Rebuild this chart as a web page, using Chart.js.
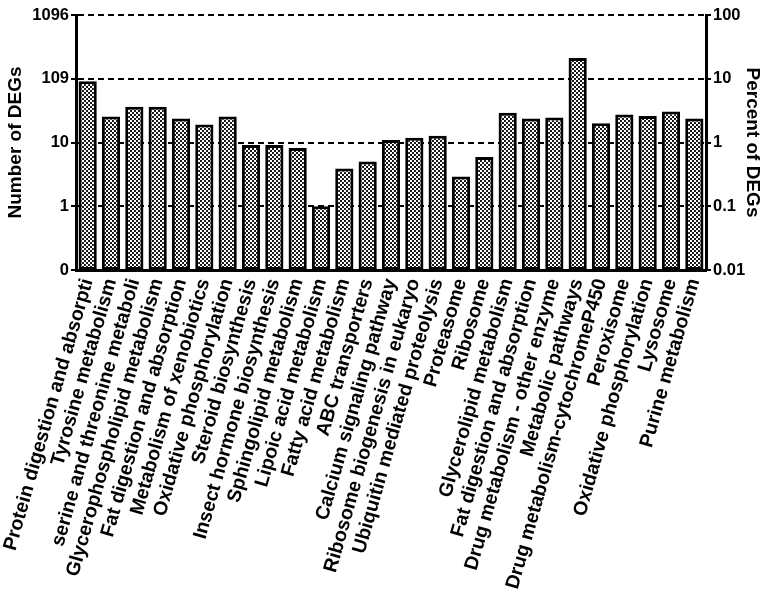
<!DOCTYPE html>
<html>
<head>
<meta charset="utf-8">
<script src="https://cdn.jsdelivr.net/npm/chart.js@4.4.0/dist/chart.umd.min.js"></script>
<style>
html,body{margin:0;padding:0;background:#fff;}
#wrap{width:764px;height:602px;}
</style>
</head>
<body>
<div id="wrap"><canvas id="c" width="764" height="602"></canvas></div>
<script>
const categories = [
  "Protein digestion and absorpti",
  "Tyrosine metabolism",
  "serine and threonine metaboli",
  "Glycerophospholipid metabolism",
  "Fat digestion and absorption",
  "Metabolism of xenobiotics",
  "Oxidative phosphorylation",
  "Steroid biosynthesis",
  "Insect hormone biosynthesis",
  "Sphingolipid metabolism",
  "Lipoic acid metabolism",
  "Fatty acid metabolism",
  "ABC transporters",
  "Calcium signaling pathway",
  "Ribosome biogenesis in eukaryo",
  "Ubiquitin mediated proteolysis",
  "Proteasome",
  "Ribosome",
  "Glycerolipid metabolism",
  "Fat digestion and absorption",
  "Drug metabolism - other enzyme",
  "Metabolic pathways",
  "Drug metabolism-cytochromeP450",
  "Peroxisome",
  "Oxidative phosphorylation",
  "Lysosome",
  "Purine metabolism"
];
const degCounts = [100, 28, 40, 40, 26, 21, 28, 10, 10, 9, 1.1, 4.3, 5.5, 12, 13, 14, 3.2, 6.5, 32, 26, 27, 232, 22, 30, 28.5, 33.5, 26];
const leftTickValues = [0.1096, 1.096, 10.96, 109.6, 1096];
const leftTickLabels = ["0", "1", "10", "109", "1096"];
const rightTickValues = [0.01, 0.1, 1, 10, 100];
const rightTickLabels = ["0.01", "0.1", "1", "10", "100"];

// checkered fill pattern
const pc = document.createElement('canvas');
pc.width = 4; pc.height = 4;
const px = pc.getContext('2d');
px.fillStyle = '#ffffff'; px.fillRect(0,0,4,4);
px.fillStyle = '#1a1a1a';
px.fillRect(0,0,2,2); px.fillRect(2,2,2,2);
const pattern = document.getElementById('c').getContext('2d').createPattern(pc, 'repeat');

const FONT = "'Liberation Sans', Arial, sans-serif";

new Chart(document.getElementById('c'), {
  type: 'bar',
  data: {
    labels: categories,
    datasets: [{
      data: degCounts,
      backgroundColor: pattern,
      borderColor: '#000',
      borderWidth: 3,
      borderSkipped: false,
      barPercentage: 0.78,
      categoryPercentage: 1.0,
      yAxisID: 'y'
    }]
  },
  options: {
    responsive: false,
    animation: false,
    devicePixelRatio: 1,
    layout: { padding: { top: 15, left: 0, right: 0, bottom: 0 } },
    plugins: { legend: { display: false }, tooltip: { enabled: false } },
    scales: {
      x: {
        type: 'category',
        offset: true,
        grid: { display: false, drawTicks: false },
        border: { display: true, color: '#000', width: 3 },
        ticks: {
          color: '#000',
          font: { family: FONT, size: 19.5, weight: 'bold' },
          maxRotation: 74, minRotation: 74,
          autoSkip: false,
          padding: 6
        },
        afterFit(scale) { scale.height = 332; scale.paddingLeft = 0; scale.paddingRight = 0; }
      },
      y: {
        type: 'logarithmic',
        position: 'left',
        min: 0.1096, max: 1096,
        afterBuildTicks(scale) { scale.ticks = leftTickValues.map(v => ({ value: v })); },
        ticks: {
          color: '#000',
          font: { family: FONT, size: 16.5, weight: 'bold' },
          padding: 2,
          callback(value, index) { return leftTickLabels[index]; }
        },
        grid: {
          color: '#000', lineWidth: 2,
          drawOnChartArea: true, drawTicks: true,
          tickLength: 5, tickColor: '#000', tickWidth: 2, tickBorderDash: []
        },
        border: { display: true, color: '#000', width: 3, dash: [6, 4] },
        title: {
          display: true, text: 'Number of DEGs', color: '#000',
          font: { family: FONT, size: 19, weight: 'bold' }, padding: { top: 4, bottom: 0 }
        },
        afterFit(scale) { scale.width = 76; scale.paddingTop = 0; scale.paddingBottom = 0; }
      },
      y2: {
        type: 'logarithmic',
        position: 'right',
        min: 0.01, max: 100,
        afterBuildTicks(scale) { scale.ticks = rightTickValues.map(v => ({ value: v })); },
        ticks: {
          color: '#000',
          font: { family: FONT, size: 16.5, weight: 'bold' },
          padding: 2,
          callback(value, index) { return rightTickLabels[index]; }
        },
        grid: {
          color: '#000', lineWidth: 2,
          drawOnChartArea: false, drawTicks: true,
          tickLength: 5, tickColor: '#000', tickWidth: 2
        },
        border: { display: true, color: '#000', width: 3 },
        title: {
          display: true, text: 'Percent of DEGs', color: '#000',
          font: { family: FONT, size: 19, weight: 'bold' }, padding: { top: 0, bottom: 2 }
        },
        afterFit(scale) { scale.width = 58; scale.paddingTop = 0; scale.paddingBottom = 0; }
      }
    }
  }
});
</script>
</body>
</html>
